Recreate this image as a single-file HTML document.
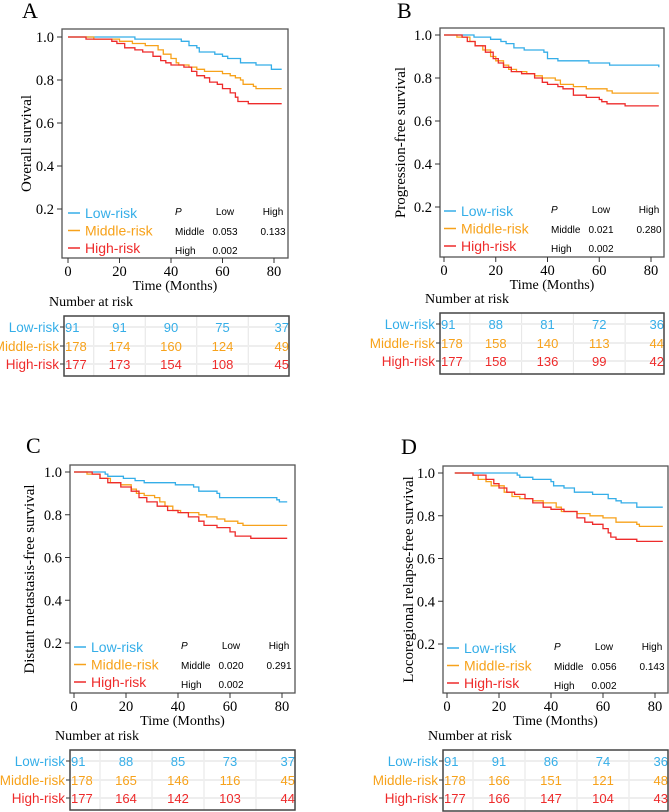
<!DOCTYPE html>
<html><head><meta charset="utf-8"><style>
html,body{margin:0;padding:0;background:#fff;width:669px;height:812px;overflow:hidden}
svg{display:block}
.serif{font-family:"Liberation Serif",serif}
.sans{font-family:"Liberation Sans",sans-serif}
</style></head><body>
<svg id="fig" width="669" height="812" viewBox="0 0 669 812"></svg>
<script>
// ---- data (time in months, survival) ----
const riskGroups = ["Low-risk","Middle-risk","High-risk"];
const timeTicks = [0,20,40,60,80];
const survTicks = [0.2,0.4,0.6,0.8,1.0];
const aLowT=[0,26,44,47,50,51,57,60,62,67,73,79,83];
const aLowS=[1,0.99,0.98,0.96,0.95,0.93,0.92,0.91,0.90,0.88,0.87,0.85,0.85];
const aMidT=[0,10,20,25,30,35,37,40,42,43,47,50,53,60,63,65,67,68,72,73,83];
const aMidS=[1,0.99,0.98,0.97,0.96,0.94,0.92,0.90,0.88,0.87,0.86,0.85,0.84,0.83,0.82,0.81,0.80,0.78,0.77,0.76,0.76];
const aHighT=[0,7,17,19,22,26,29,33,36,38,40,45,48,50,53,55,58,60,63,65,66,70,83];
const aHighS=[1,0.99,0.98,0.97,0.95,0.94,0.93,0.91,0.89,0.88,0.87,0.86,0.84,0.82,0.81,0.79,0.78,0.76,0.74,0.72,0.70,0.69,0.69];
const bLowT=[0,11.6,18,22,24,27,31,38.6,40,44,56,64,83];
const bLowS=[1,0.99,0.98,0.97,0.96,0.94,0.93,0.92,0.89,0.88,0.87,0.86,0.85];
const bMidT=[0,5,10,12,15,18,20,23,25,28,32,35,38,43,45,50,55,63,65,83];
const bMidS=[1,0.99,0.97,0.95,0.93,0.90,0.88,0.86,0.84,0.83,0.82,0.81,0.80,0.79,0.77,0.76,0.75,0.74,0.73,0.73];
const bHighT=[0,7,9,12,16,19,21,23,26,30,35,38,40,44,46,50,55,60,61,63,70,83];
const bHighS=[1,0.99,0.97,0.95,0.92,0.89,0.87,0.85,0.83,0.82,0.80,0.78,0.77,0.76,0.75,0.72,0.71,0.70,0.69,0.68,0.67,0.67];
const cLowT=[0,12,13,19,23.5,27,39,46,48,55,56,78,79,82];
const cLowS=[1,0.99,0.98,0.97,0.96,0.95,0.94,0.93,0.91,0.90,0.88,0.87,0.86,0.86];
const cMidT=[0,5,10,14,18,22,24,27,31,33,35,38,41,48,51,55,58,63,65,82];
const cMidS=[1,0.99,0.97,0.95,0.94,0.92,0.90,0.89,0.88,0.86,0.84,0.82,0.81,0.80,0.79,0.78,0.77,0.76,0.75,0.75];
const cHighT=[0,7,10,13,18,22,25,28,32,36,40,44,48,50,55,60,62,68,82];
const cHighS=[1,0.99,0.97,0.95,0.93,0.91,0.88,0.86,0.84,0.82,0.81,0.79,0.77,0.75,0.74,0.72,0.70,0.69,0.69];
const dLowT=[3,27,28,33,40,41,45,49,56,62,65,67,73,83];
const dLowS=[1,0.99,0.98,0.97,0.96,0.94,0.93,0.91,0.90,0.88,0.87,0.86,0.84,0.84];
const dMidT=[3,10,12,15,17,22,25,28,33,37,42,44,50,55,60,65,73,74,83];
const dMidS=[1,0.99,0.97,0.96,0.94,0.91,0.89,0.88,0.87,0.86,0.84,0.82,0.81,0.80,0.79,0.77,0.76,0.75,0.75];
const dHighT=[3,10,15,18,20,23,26,30,33,37,40,45,50,53,56,60,62,63,65,73,83];
const dHighS=[1,0.99,0.97,0.95,0.93,0.91,0.90,0.88,0.86,0.84,0.83,0.82,0.79,0.77,0.76,0.74,0.72,0.70,0.69,0.68,0.68];
// numbers at risk
const aRisk=[[91,91,90,75,37],[178,174,160,124,49],[177,173,154,108,45]];
const bRisk=[[91,88,81,72,36],[178,158,140,113,44],[177,158,136,99,42]];
const cRisk=[[91,88,85,73,37],[178,165,146,116,45],[177,164,142,103,44]];
const dRisk=[[91,91,86,74,36],[178,166,151,121,48],[177,166,147,104,43]];
// p-values
const aP=["0.053","0.133","0.002"];
const bP=["0.021","0.280","0.002"];
const cP=["0.020","0.291","0.002"];
const dP=["0.056","0.143","0.002"];

const colors=["#35aee8","#f7a21b","#ee2b2b"];
const NS="http://www.w3.org/2000/svg";
const fig=document.getElementById('fig');
function mk(tag,attrs,parent,text){const e=document.createElementNS(NS,tag);for(const k in attrs)e.setAttribute(k,attrs[k]);if(text!==undefined)e.textContent=text;(parent||fig).appendChild(e);return e;}

function panel(p){
  const g=mk('g',{});
  
  
  const [L,T,R,B]=p.box;
  const xs=t=>p.x0+(p.x80-p.x0)*t/80;
  const ys=v=>p.y1+(1-v)*(p.y02-p.y1)/0.8;
  const lt=mk('text',{x:p.letter[0],y:p.letter[1],'font-size':22,class:'serif'},g,p.id);
  
  
  const series=[[p.lowT,p.lowS],[p.midT,p.midS],[p.highT,p.highS]];
  series.forEach((s,i)=>{
    let d='M'+xs(s[0][0]).toFixed(1)+','+ys(s[1][0]).toFixed(1);
    for(let k=1;k<s[0].length;k++){d+='H'+xs(s[0][k]).toFixed(1)+'V'+ys(s[1][k]).toFixed(1);}
    const path=mk('path',{d:d,fill:'none',stroke:colors[i],'stroke-width':1.3},g);
    
    
  });
  const box=mk('rect',{x:L,y:T,width:R-L,height:B-T,fill:'none',stroke:'#555','stroke-width':1.3},g);
  
  
  survTicks.forEach(v=>{
    mk('line',{x1:L-5,x2:L,y1:ys(v),y2:ys(v),stroke:'#333'},g);
    const t=mk('text',{x:L-8,y:ys(v)+5,'font-size':14.5,'text-anchor':'end',class:'serif'},g,v.toFixed(1));
    
    
  });
  timeTicks.forEach(t=>{
    mk('line',{x1:xs(t),x2:xs(t),y1:B,y2:B+5,stroke:'#333'},g);
    const tx=mk('text',{x:xs(t),y:B+18,'font-size':14.5,'text-anchor':'middle',class:'serif'},g,String(t));
    
    
  });
  const xt=mk('text',{x:(L+R)/2,y:B+32,'font-size':14,'text-anchor':'middle',class:'serif'},g,'Time (Months)');
  
  
  const cy=(T+B)/2;
  const yt=mk('text',{x:p.ylx,y:cy,'font-size':15,'text-anchor':'middle',class:'serif',transform:'rotate(-90 '+p.ylx+' '+cy+')'},g,p.ylabel);
  
  
  riskGroups.forEach((nm,i)=>{
    const ly=p.y02+4+i*17.5;
    mk('line',{x1:p.x0,x2:p.x0+12,y1:ly,y2:ly,stroke:colors[i],'stroke-width':1.5},g);
    const t=mk('text',{x:p.x0+17,y:ly+5,'font-size':14,fill:colors[i],class:'sans'},g,nm);
    
    
  });
  const px=p.x0+107,c1=p.x0+157,c2=p.x0+205,r0=p.y02+6;
  mk('text',{x:px,y:r0,'font-size':10,'font-style':'italic',class:'sans'},g,'P');
  mk('text',{x:c1,y:r0,'font-size':10,'text-anchor':'middle',class:'sans'},g,'Low');
  mk('text',{x:c2,y:r0,'font-size':10,'text-anchor':'middle',class:'sans'},g,'High');
  mk('text',{x:px,y:r0+20,'font-size':10,class:'sans'},g,'Middle');
  mk('text',{x:c1,y:r0+20,'font-size':10,'text-anchor':'middle',class:'sans'},g,p.pv[0]);
  mk('text',{x:c2,y:r0+20,'font-size':10,'text-anchor':'middle',class:'sans'},g,p.pv[1]);
  mk('text',{x:px,y:r0+39,'font-size':10,class:'sans'},g,'High');
  mk('text',{x:c1,y:r0+39,'font-size':10,'text-anchor':'middle',class:'sans'},g,p.pv[2]);
  const [tL,tT,tR,tB]=p.table;
  const nar=mk('text',{x:tL-15,y:tT-10,'font-size':14,class:'serif'},g,'Number at risk');
  
  
  [10,30,50,70].forEach(t=>mk('line',{x1:xs(t),x2:xs(t),y1:tT,y2:tB,stroke:'#e4e4e4'},g));
  const rowY=[tT+11,tT+30,tT+48];
  rowY.forEach(y=>mk('line',{x1:tL,x2:tR,y1:y,y2:y,stroke:'#eeeeee','stroke-width':2},g));
  riskGroups.forEach((nm,i)=>{
    const y=rowY[i];
    mk('line',{x1:tL-4,x2:tL,y1:y,y2:y,stroke:'#333'},g);
    const lab=mk('text',{x:tL-5,y:y+5,'font-size':13.5,'text-anchor':'end',fill:colors[i],class:'sans'},g,nm);
    
    
    p.risk[i].forEach((n,k)=>{
      let x=xs(timeTicks[k]),anc='middle';
      if(k===0){x=tL+1;anc='start';}
      if(k===timeTicks.length-1){x=tR;anc='end';}
      const c=mk('text',{x:x,y:y+5,'font-size':13,'text-anchor':anc,fill:colors[i],class:'sans'},g,String(n));
      
      
    });
  });
  const tb=mk('rect',{x:tL,y:tT,width:tR-tL,height:tB-tT,fill:'none',stroke:'#444','stroke-width':1.5},g);
  
  
}

panel({id:'A',box:[62,29,288,258],x0:68,x80:274,y1:37,y02:209,table:[64,316,289,376],letter:[22,18],ylx:31,ylabel:'Overall survival',
  lowT:aLowT,lowS:aLowS,midT:aMidT,midS:aMidS,highT:aHighT,highS:aHighS,risk:aRisk,pv:aP});
panel({id:'B',box:[440,28,664,257],x0:444,x80:651,y1:35,y02:207,table:[440,313,664,374],letter:[397,18],ylx:405,ylabel:'Progression-free survival',
  lowT:bLowT,lowS:bLowS,midT:bMidT,midS:bMidS,highT:bHighT,highS:bHighS,risk:bRisk,pv:bP});
panel({id:'C',box:[70,465,295,693],x0:74,x80:282,y1:472,y02:643,table:[70,750,295,810],letter:[26,453],ylx:34,ylabel:'Distant metastasis-free survival',
  lowT:cLowT,lowS:cLowS,midT:cMidT,midS:cMidS,highT:cHighT,highS:cHighS,risk:cRisk,pv:cP});
panel({id:'D',box:[443,466,668,693],x0:447,x80:655,y1:473,y02:644,table:[443,750,668,811],letter:[401,454],ylx:413,ylabel:'Locoregional relapse-free survival',
  lowT:dLowT,lowS:dLowS,midT:dMidT,midS:dMidS,highT:dHighT,highS:dHighS,risk:dRisk,pv:dP});
</script>
</body></html>
